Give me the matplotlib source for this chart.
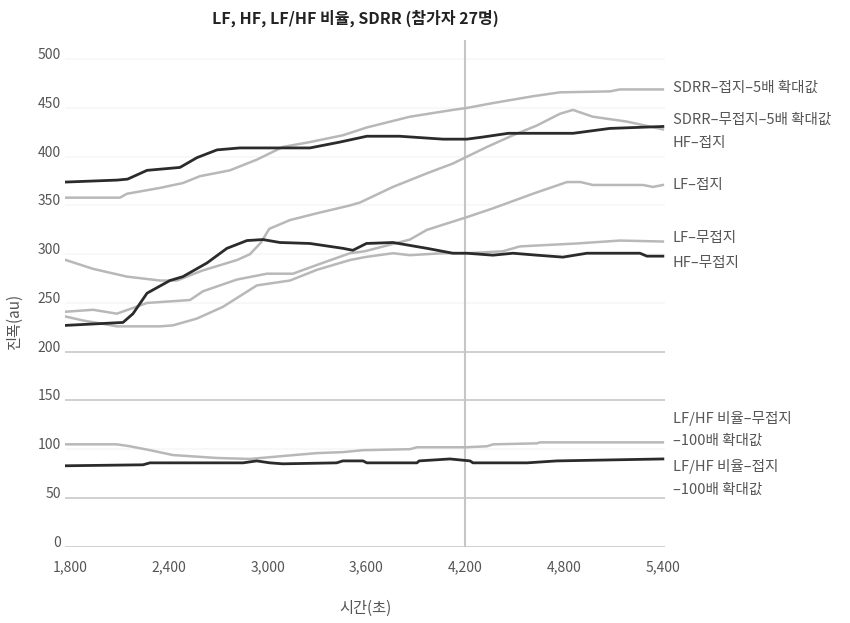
import matplotlib
matplotlib.use("Agg")
from matplotlib import pyplot as plt
from matplotlib.transforms import ScaledTranslation

plt.rcParams["font.family"] = ["Noto Sans CJK KR", "DejaVu Sans"]

# time (s) and values, one pair per series
sdrr_jeopji_t = [1775, 2104, 2146, 2347, 2486, 2589, 2771, 2935, 3093, 3257, 3458, 3603,
                 3864, 4125, 4210, 4368, 4611, 4775, 5079, 5139, 5400]
sdrr_jeopji_v = [358, 358, 362, 368, 373, 380, 386, 397, 410, 415, 422, 430,
                 441, 448, 450, 455, 462, 466, 467, 469, 469]

sdrr_mujeopji_t = [1775, 1940, 2146, 2347, 2450, 2600, 2814, 2893, 2960, 3010, 3136, 3300,
                   3500, 3561, 3761, 3968, 4125, 4210, 4332, 4490, 4635, 4775, 4854, 4975,
                   5182, 5400]
sdrr_mujeopji_v = [294, 285, 277, 273, 273, 283, 294, 300, 312, 326, 335, 342,
                   350, 353, 369, 383, 393, 400, 410, 422, 432, 444, 448, 441,
                   436, 428]

hf_jeopji_t = [1775, 2085, 2150, 2268, 2468, 2571, 2693, 2832, 3257, 3439, 3603, 3800,
               4065, 4210, 4300, 4462, 4855, 5078, 5400]
hf_jeopji_v = [374, 376, 377, 386, 389, 399, 407, 409, 409, 415, 421, 421,
               418, 418, 420, 424, 424, 429, 431]

lf_jeopji_t = [1775, 1940, 2085, 2268, 2529, 2608, 2814, 2996, 3154, 3300, 3500, 3590,
               3864, 3968, 4210, 4368, 4611, 4818, 4900, 4975, 5279, 5340, 5400]
lf_jeopji_v = [241, 243, 239, 250, 253, 262, 274, 280, 280, 289, 301, 303,
               315, 325, 338, 347, 362, 374, 374, 371, 371, 369, 371]

lf_mujeopji_t = [1775, 1880, 2085, 2347, 2425, 2571, 2729, 2935, 3136, 3300, 3500, 3590,
                 3761, 3864, 4065, 4210, 4429, 4532, 4878, 5139, 5400]
lf_mujeopji_v = [236, 232, 226, 226, 227, 234, 246, 268, 273, 284, 294, 297,
                 301, 299, 301, 301, 303, 308, 311, 314, 313]

hf_mujeopji_t = [1775, 2122, 2183, 2268, 2407, 2486, 2632, 2753, 2875, 2972, 3075, 3257,
                 3458, 3518, 3600, 3761, 3968, 4125, 4210, 4368, 4490, 4635, 4793, 4939,
                 5261, 5303, 5400]
hf_mujeopji_v = [227, 230, 239, 260, 273, 277, 291, 306, 314, 315, 312, 311,
                 306, 304, 311, 312, 306, 301, 301, 299, 301, 299, 297, 301,
                 301, 298, 298]

lfhf_mujeopji_t = [1775, 2085, 2164, 2286, 2425, 2692, 2893, 3093, 3300, 3457, 3579, 3864,
                   3907, 4210, 4332, 4370, 4635, 4654, 5400]
lfhf_mujeopji_v = [105, 105, 103, 99, 94, 91, 90, 93, 96, 97, 99, 100,
                   102, 102, 103, 105, 106, 107, 107]

lfhf_jeopji_t = [1775, 2243, 2286, 2851, 2934, 3014, 3093, 3419, 3457, 3579, 3603, 3907,
                 3920, 4107, 4229, 4247, 4575, 4757, 5400]
lfhf_jeopji_v = [83, 84, 86, 86, 88, 86, 85, 86, 88, 88, 86, 86,
                 88, 90, 88, 86, 86, 88, 90]

x_ticks = [1800, 2400, 3000, 3600, 4200, 4800, 5400]
x_ticklabels = ["1,800", "2,400", "3,000", "3,600", "4,200", "4,800", "5,400"]
y_ticks = [0, 50, 100, 150, 200, 250, 300, 350, 400, 450, 500]
marker_time = 4200

# right-hand labels: (text, pixel y in the 623 px tall picture)
right_labels = [
    ("SDRR–접지–5배 확대값", 88),
    ("SDRR–무접지–5배 확대값", 120),
    ("HF–접지", 143),
    ("LF–접지", 185),
    ("LF–무접지", 238),
    ("HF–무접지", 263),
    ("LF/HF 비율–무접지", 418),
    ("–100배 확대값", 441),
    ("LF/HF 비율–접지", 466),
    ("–100배 확대값", 490),
]

DARK = "#2b2b2b"
LIGHT = "#b8b8b8"

fig = plt.figure(figsize=(8.5, 6.23), dpi=100)
ax = fig.add_axes([65 / 850, 76.3 / 623, 600 / 850, 507 / 623])

# gridlines (the lower ones are clearly visible in the reference, upper ones barely)
for y in y_ticks:
    col = "#cdcdcd" if y in (0, 50, 150, 200) else "#f8f8f8"
    ax.axhline(y, color=col, linewidth=1.3, zorder=0)

ax.axvline(marker_time, color="#c6c6c6", linewidth=1.5, zorder=1)

ax.plot(sdrr_jeopji_t, sdrr_jeopji_v, color=LIGHT, linewidth=1.8)
ax.plot(sdrr_mujeopji_t, sdrr_mujeopji_v, color=LIGHT, linewidth=1.8)
ax.plot(lf_jeopji_t, lf_jeopji_v, color=LIGHT, linewidth=1.8)
ax.plot(lf_mujeopji_t, lf_mujeopji_v, color=LIGHT, linewidth=1.8)
ax.plot(lfhf_mujeopji_t, lfhf_mujeopji_v, color=LIGHT, linewidth=1.8)
ax.plot(hf_jeopji_t, hf_jeopji_v, color=DARK, linewidth=2.0)
ax.plot(hf_mujeopji_t, hf_mujeopji_v, color=DARK, linewidth=2.0)
ax.plot(lfhf_jeopji_t, lfhf_jeopji_v, color=DARK, linewidth=2.0)

ax.set_xlim(1770, 5413)
ax.set_ylim(0, 520)
for s in ax.spines.values():
    s.set_visible(False)

ax.set_xticks(x_ticks)
ax.set_xticklabels(x_ticklabels)
ax.set_yticks(y_ticks)
ax.tick_params(axis="both", length=0, labelsize=10, labelcolor="#555555")
ax.tick_params(axis="x", pad=10)
ax.tick_params(axis="y", pad=3)
for lbl in ax.get_yticklabels():
    lbl.set_transform(lbl.get_transform() + ScaledTranslation(0, 4 / 72, fig.dpi_scale_trans))

for txt, py in right_labels:
    fig.text(673 / 850, 1 - py / 623, txt, ha="left", va="center",
             fontsize=10.5, color="#555555")

fig.text(355 / 850, 1 - 18 / 623, "LF, HF, LF/HF 비율, SDRR (참가자 27명)",
         ha="center", va="center", fontsize=11.5, fontweight="bold", color="#222222")
fig.text(365 / 850, 1 - 608 / 623, "시간(초)", ha="center", va="center",
         fontsize=11, color="#555555")
fig.text(14 / 850, 1 - 322 / 623, "진폭(au)", ha="center", va="center",
         rotation=90, fontsize=11, color="#555555")

plt.savefig("out.png", dpi=100)
plt.close()
